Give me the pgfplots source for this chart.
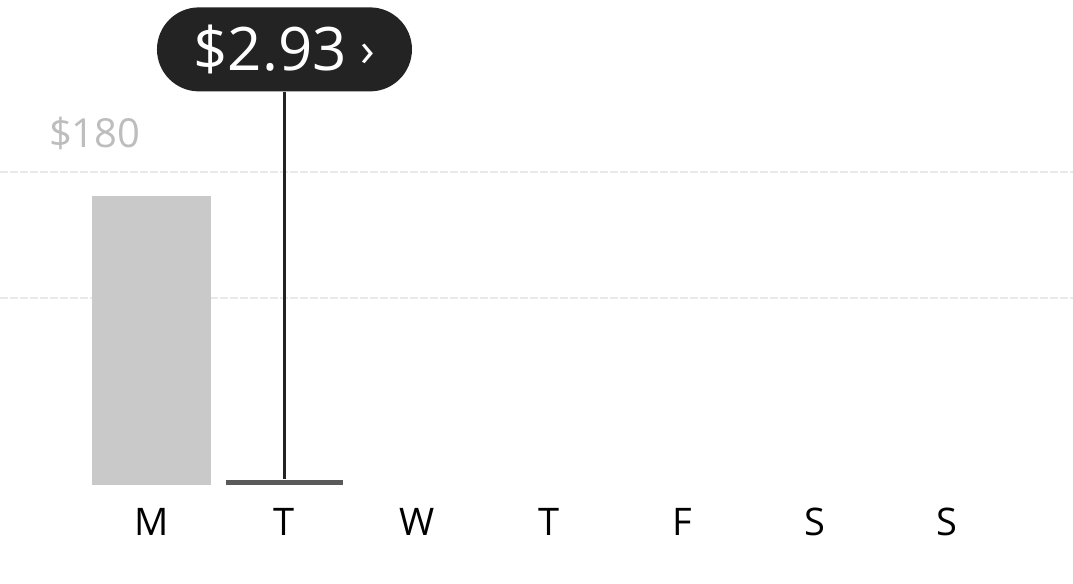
\documentclass[border=0pt]{standalone}
\usepackage{pgfplots}
\pgfplotsset{compat=1.18}
\usepackage{fontspec}
\setmainfont{Open Sans}
\definecolor{barlight}{HTML}{C9C9C9}
\definecolor{bardark}{HTML}{5A5A5A}
\definecolor{pill}{HTML}{232323}
\definecolor{gridc}{HTML}{E9E9E9}
\definecolor{lab}{HTML}{BDBDBD}
\begin{document}
\begin{tikzpicture}
\begin{axis}[
  scale only axis,
  width=536.5pt, height=242.5pt,
  at={(0,0)}, anchor=south west,
  xmin=-1.147, xmax=6.951,
  ymin=0, ymax=278.9,
  axis line style={draw=none},
  ytick={107.5,180}, yticklabels={},
  ymajorgrids, grid style={gridc, line width=0.8pt, dash pattern=on 4pt off 1pt},
  major tick length=0pt,
  xtick={0,1,2,3,4,5,6},
  xticklabels={M,T,W,T,F,S,S},
  xticklabel style={font=\fontsize{19}{22}\selectfont, text=black, yshift=-8pt},
  clip=false,
]
\addplot[ybar, bar width=0.898, fill=barlight, draw=none] coordinates {(0,166)};
\addplot[ybar, bar width=0.885, fill=bardark, draw=none] coordinates {(1,2.93)};
\addplot[pill, line width=1.3pt] coordinates {(1,3.5) (1,226)};
\node[fill=pill, text=white, rounded corners=21pt, minimum height=42pt, minimum width=127.5pt, inner sep=0pt, font=\fontsize{30}{34}\selectfont] at (axis cs:1,250.5) {\$2.93\hspace{7pt}\raisebox{2pt}{\fontsize{24}{26}\selectfont ›}};
\node[text=lab, anchor=west, inner sep=0pt, font=\fontsize{20}{24}\selectfont] at (axis cs:-0.78,202.4) {\$180};
\end{axis}
\pgfresetboundingbox
\path (0,-49.5pt) rectangle (536.5pt,242.5pt);
\end{tikzpicture}
\end{document}
